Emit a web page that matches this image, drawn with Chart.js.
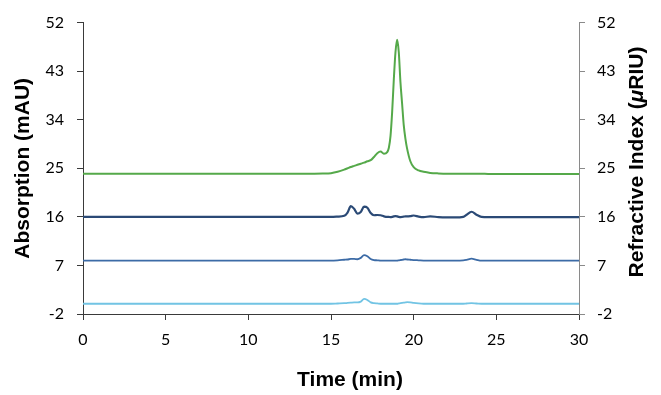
<!DOCTYPE html>
<html lang="en">
<head>
  <meta charset="UTF-8">
  <title>Chromatogram</title>
  <script src="https://cdn.jsdelivr.net/npm/chart.js"></script>
  <style>
    html, body { margin: 0; padding: 0; background: #fff; }
    #wrap { width: 661px; height: 395px; }
  </style>
</head>
<body>
  <div id="wrap"><canvas id="chart" width="661" height="395"></canvas></div>

  <script>
    // retention time (min), shared by all traces
    const time = [0,1,2,3,4,5,6,7,8,9,10,11,12,13,14,14.5,15,15.4,15.8,
      16.0,16.2,16.4,16.6,16.8,17.0,17.2,17.4,17.6,17.8,18.0,18.2,18.4,
      18.5,18.6,18.7,18.8,18.9,19.0,19.1,19.2,19.3,19.4,19.5,19.6,
      19.8,20.0,20.3,20.6,21.0,21.5,22,22.5,23,23.2,23.5,23.8,24.1,24.5,25,
      26,27,28,29,30];

    const green = [24,24,24,24,24,24,24,24,24,24,24,24,24,24,24,24.02,24.1,24.35,24.75,
      25.0,25.25,25.45,25.65,25.85,26.05,26.3,26.5,27.1,27.8,28.1,27.7,28.0,
      28.8,31.0,35.5,41.5,46.5,48.8,46.5,41.0,37.0,33.0,30.5,28.7,
      26.3,25.2,24.6,24.35,24.15,24.05,24,24,24,24,24,24,24,23.95,23.95,
      23.95,23.95,23.95,23.95,23.95];

    const navy = [16,16,16,16,16,16,16,16,16,16,16,16,16,16,16,16,16,16.05,16.2,
      16.8,18.0,17.5,16.6,16.9,17.9,17.7,16.7,16.3,16.35,16.3,16.1,16.0,
      16.0,15.95,16.0,16.1,16.15,16.1,16.0,15.95,16.0,16.05,16.1,16.1,
      16.15,16.25,16.05,15.95,16.1,15.95,15.9,15.9,16.0,16.4,16.95,16.4,16.0,15.95,15.95,
      15.95,15.95,15.95,15.95,15.95];

    const blue = [7.9,7.9,7.9,7.9,7.9,7.9,7.9,7.9,7.9,7.9,7.9,7.9,7.9,7.9,7.9,7.9,7.9,7.95,8.05,
      8.1,8.2,8.2,8.15,8.4,8.9,8.7,8.2,8.0,7.95,7.9,7.9,7.9,
      7.9,7.9,7.9,7.9,7.9,7.9,7.95,8.0,8.05,8.1,8.15,8.1,
      8.05,8.0,7.95,7.9,7.9,7.9,7.9,7.9,7.95,8.05,8.25,8.05,7.9,7.9,7.9,
      7.9,7.9,7.9,7.9,7.9];

    const cyan = [-0.1,-0.1,-0.1,-0.1,-0.1,-0.1,-0.1,-0.1,-0.1,-0.1,-0.1,-0.1,-0.1,-0.1,-0.1,-0.1,-0.1,-0.05,0,
      0.05,0.1,0.15,0.15,0.3,0.8,0.6,0.15,0,-0.05,-0.1,-0.1,-0.1,
      -0.1,-0.1,-0.1,-0.1,-0.1,-0.1,-0.05,0,0.05,0.1,0.15,0.2,
      0.15,0.05,-0.05,-0.1,-0.1,-0.1,-0.1,-0.1,-0.1,-0.05,0,-0.05,-0.1,-0.1,-0.1,
      -0.1,-0.1,-0.1,-0.1,-0.1];

    const xTicks = [0,5,10,15,20,25,30];
    const yTicks = [-2,7,16,25,34,43,52];

    const pts = (ys) => time.map((t, i) => ({ x: t, y: ys[i] }));
    const line = (ys, color, w) => ({
      data: pts(ys), borderColor: color, borderWidth: w, pointRadius: 0,
      fill: false, cubicInterpolationMode: 'monotone', yAxisID: 'y'
    });

    const tickFont = { family: 'Lato', size: 16 };
    const titleFont = { family: 'Liberation Sans', size: 21, weight: 'bold' };
    const bold = 'bold 21px "Liberation Sans"';

    // x title sits right of centre, right title has an italic mu: draw both by hand
    const extraTitles = {
      id: 'extraTitles',
      afterDraw(chart) {
        const ctx = chart.ctx;
        ctx.save();
        ctx.fillStyle = '#000';
        ctx.textBaseline = 'middle';
        ctx.textAlign = 'center';
        ctx.font = bold;
        ctx.fillText('Time (min)', 350, 380);

        const parts = [
          ['Refractive Index (', bold],
          ['\u03bc', 'italic ' + bold],
          ['RIU)', bold]
        ];
        let total = 0;
        parts.forEach(p => { ctx.font = p[1]; total += ctx.measureText(p[0]).width; });
        ctx.translate(637, 162);
        ctx.rotate(-Math.PI / 2);
        ctx.textAlign = 'left';
        let x = -total / 2;
        parts.forEach(p => { ctx.font = p[1]; ctx.fillText(p[0], x, 0); x += ctx.measureText(p[0]).width; });
        ctx.restore();
      }
    };

    new Chart(document.getElementById('chart'), {
      type: 'line',
      data: {
        datasets: [
          line(cyan, '#72c4e4', 1.8),
          line(blue, '#3c6ba6', 1.8),
          line(navy, '#2b4a76', 2.2),
          line(green, '#55a94a', 2)
        ]
      },
      options: {
        responsive: false,
        animation: false,
        layout: { padding: { top: 19, left: 0, right: 0, bottom: 0 } },
        plugins: { legend: { display: false }, tooltip: { enabled: false } },
        scales: {
          x: {
            type: 'linear', min: 0, max: 30,
            afterBuildTicks: (s) => { s.ticks = xTicks.map(v => ({ value: v })); },
            afterFit: (s) => { s.height = 81; },
            border: { display: true, color: '#3a3a3a', width: 1 },
            grid: { drawOnChartArea: false, drawTicks: true, tickLength: 6, color: '#3a3a3a' },
            ticks: { font: tickFont, color: '#000', padding: 10, maxRotation: 0 }
          },
          y: {
            position: 'left', min: -2, max: 52,
            afterBuildTicks: (s) => { s.ticks = yTicks.map(v => ({ value: v })); },
            afterFit: (s) => { s.width = 83; },
            border: { display: true, color: '#3a3a3a', width: 1 },
            grid: { drawOnChartArea: false, drawTicks: true, tickLength: 6, color: '#3a3a3a' },
            ticks: { font: tickFont, color: '#000', padding: 13 },
            title: { display: true, text: 'Absorption (mAU)', font: titleFont, color: '#000', padding: { top: 11, bottom: 0 } }
          },
          y2: {
            position: 'right', min: -2, max: 52,
            afterBuildTicks: (s) => { s.ticks = yTicks.map(v => ({ value: v })); },
            afterFit: (s) => { s.width = 82; },
            border: { display: true, color: '#8a8a8a', width: 1 },
            grid: { drawOnChartArea: false, drawTicks: true, tickLength: 6, color: '#8a8a8a' },
            ticks: { font: tickFont, color: '#000', padding: 12 }
          }
        }
      },
      plugins: [extraTitles]
    });
  </script>
</body>
</html>
